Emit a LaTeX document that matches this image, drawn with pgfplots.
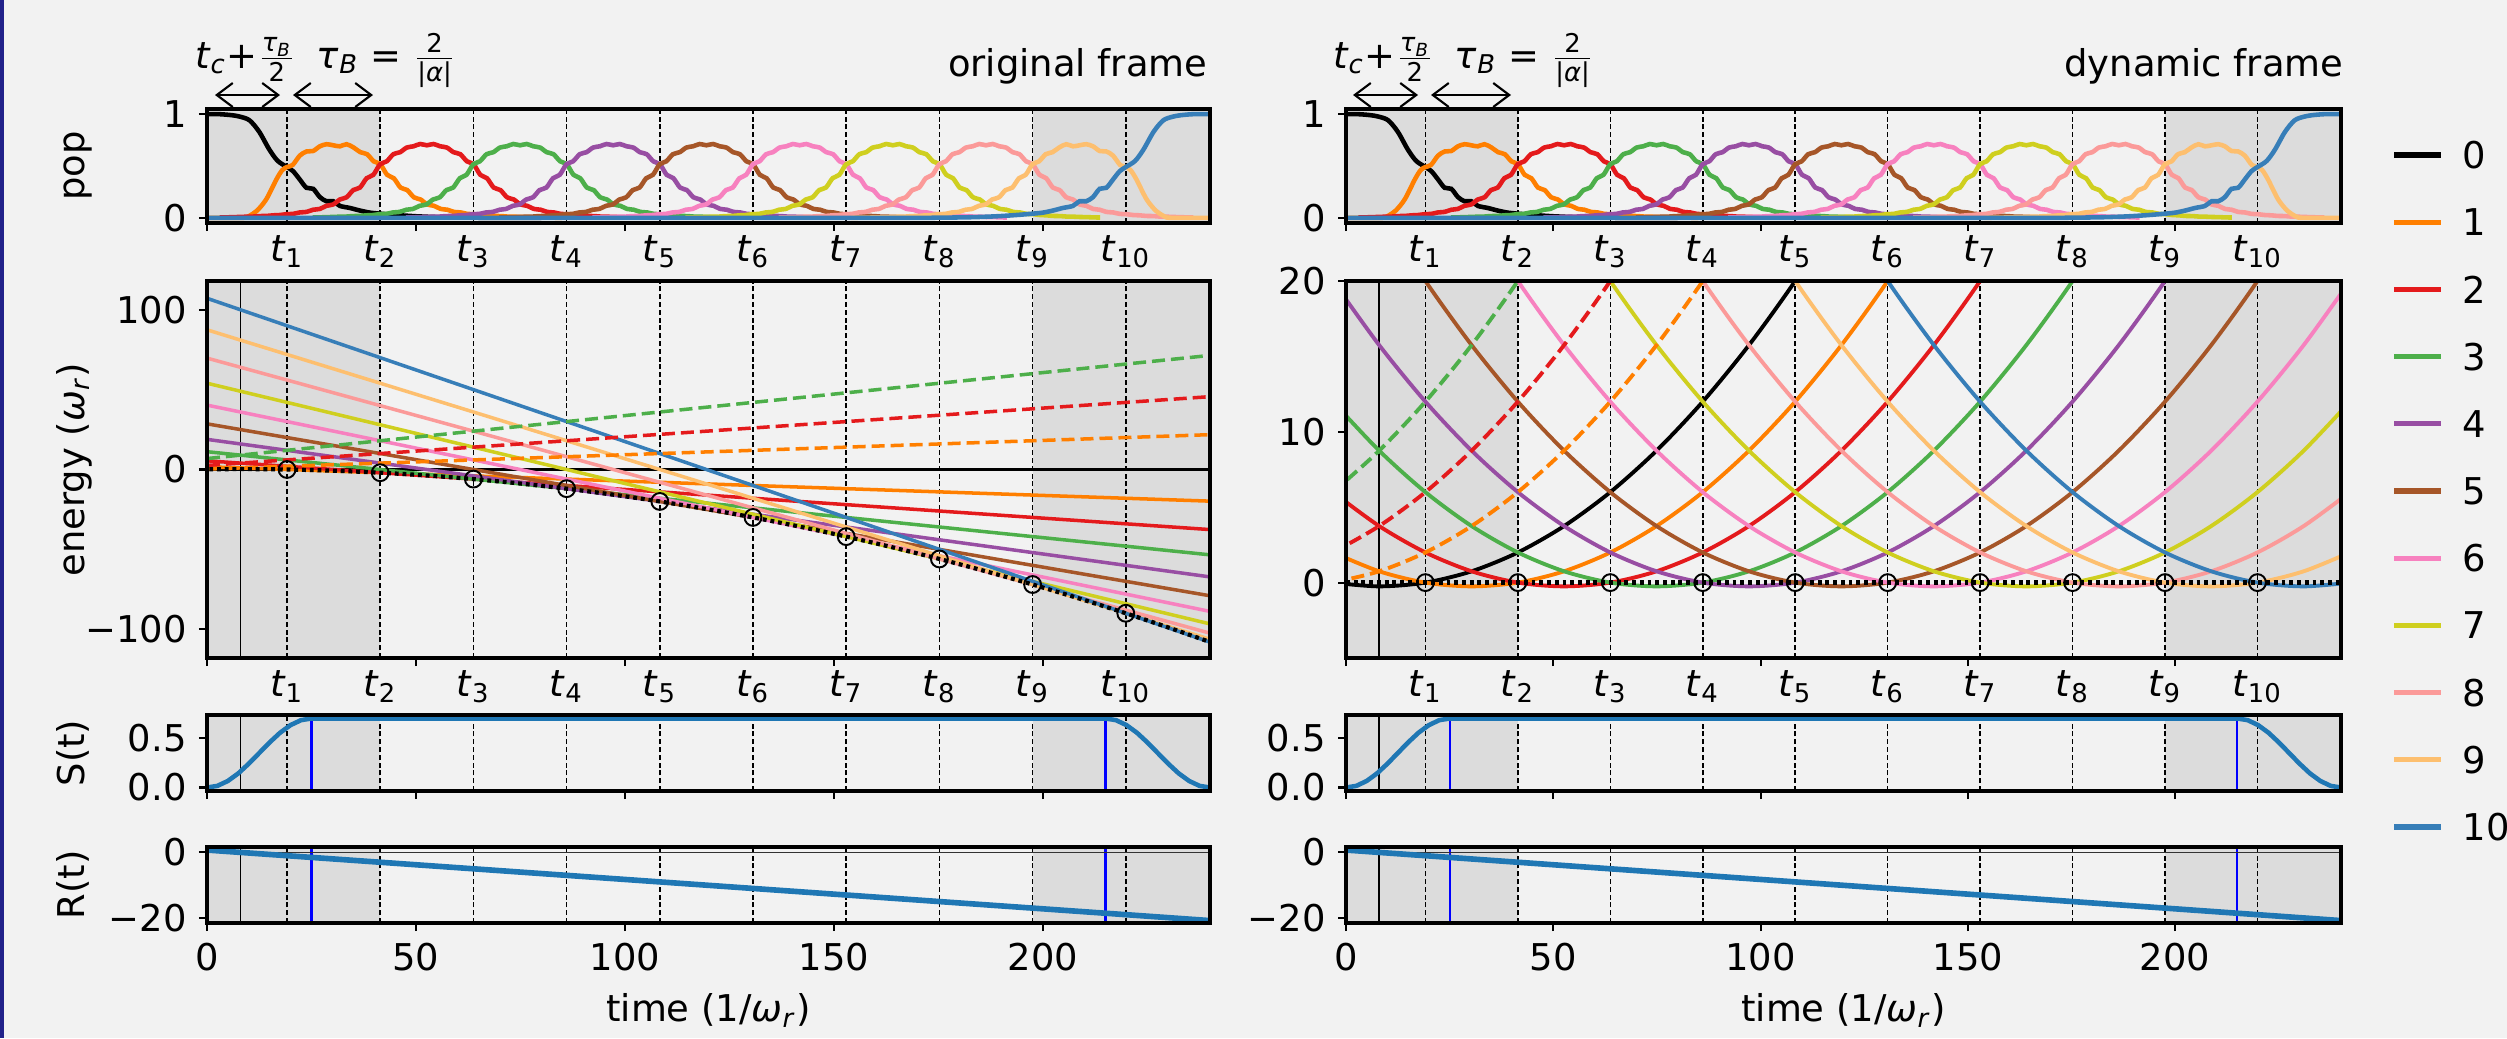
\documentclass[border=0pt]{standalone}
\usepackage{fontspec}
\setmainfont{DejaVu Sans}
\usepackage{amsmath}
\usepackage{pgfplots}
\usepackage{pgfplotstable}
\pgfplotsset{compat=1.18}
\usetikzlibrary{arrows.meta}

\definecolor{bg}{HTML}{F2F2F2}
\definecolor{shade}{HTML}{DCDCDC}
\definecolor{edge}{HTML}{22228A}
\definecolor{c0}{HTML}{000000}
\definecolor{c1}{HTML}{FF7F00}
\definecolor{c2}{HTML}{E41A1C}
\definecolor{c3}{HTML}{4DAF4A}
\definecolor{c4}{HTML}{984EA3}
\definecolor{c5}{HTML}{A65628}
\definecolor{c6}{HTML}{F781BF}
\definecolor{c7}{HTML}{CFCF1F}
\definecolor{c8}{HTML}{FB9A99}
\definecolor{c9}{HTML}{FDBF6F}
\definecolor{c10}{HTML}{377EB8}
\definecolor{sblue}{HTML}{1F77B4}

\newcommand{\fs}{\fontsize{10.5}{12.6}\selectfont}
\newcommand{\tl}[1]{\textit{t}\textsubscript{#1}}
\newcommand{\omr}{\textit{ω}\textsubscript{\textit{r}}}

% generic population bump of one level, d = t - centre
\pgfplotstableread{
d p
-49.6 0.003
-48.0 0.004
-46.4 0.007
-44.8 0.008
-43.2 0.011
-41.6 0.012
-40.0 0.017
-38.4 0.018
-36.8 0.024
-35.2 0.027
-33.6 0.035
-32.0 0.038
-30.4 0.052
-28.8 0.057
-27.2 0.078
-25.6 0.086
-24.0 0.116
-22.4 0.129
-20.8 0.177
-19.2 0.198
-17.6 0.268
-16.0 0.292
-14.4 0.382
-12.8 0.415
-11.2 0.516
-9.6 0.545
-8.0 0.614
-6.4 0.633
-4.8 0.678
-3.2 0.690
-1.6 0.712
0.0 0.700
1.6 0.712
3.2 0.690
4.8 0.678
6.4 0.633
8.0 0.614
9.6 0.545
11.2 0.516
12.8 0.415
14.4 0.382
16.0 0.292
17.6 0.268
19.2 0.198
20.8 0.177
22.4 0.129
24.0 0.116
25.6 0.086
27.2 0.078
28.8 0.057
30.4 0.052
32.0 0.038
33.6 0.035
35.2 0.027
36.8 0.024
38.4 0.018
40.0 0.017
41.6 0.012
43.2 0.011
44.8 0.008
46.4 0.007
48.0 0.004
49.6 0.003
}\bump

\pgfplotstableread{
t p
0 1
3 1
6 0.99
8 0.975
10.2 0.94
12.5 0.83
14.9 0.66
16.9 0.55
19.15 0.49
20.6 0.45
22.2 0.37
23.8 0.29
25.4 0.28
27 0.2
28.6 0.16
30.2 0.16
31.8 0.115
34.2 0.095
36.6 0.07
39 0.05
41.45 0.04
45 0.028
50 0.015
56 0.006
65 0.001
80 0
}\popA

\pgfplotstableread{
t p
0 0
8 0
9.5 0.005
10.2 0.02
12 0.07
14.2 0.18
16.6 0.37
18 0.46
19.15 0.49
20.5 0.51
22.2 0.6
23.8 0.64
25.4 0.645
27 0.69
28.6 0.71
30.2 0.70
31.8 0.69
33.4 0.71
35.1 0.678
36.7 0.633
38.3 0.614
39.9 0.545
41.5 0.516
43.1 0.415
44.7 0.382
46.3 0.292
47.9 0.268
49.5 0.198
51.1 0.177
52.7 0.129
54.3 0.116
55.9 0.086
57.5 0.078
59.1 0.057
60.7 0.052
62.3 0.038
63.9 0.035
65.5 0.027
67.1 0.024
68.7 0.018
70.3 0.017
71.9 0.012
73.5 0.011
75.1 0.008
76.7 0.007
78.3 0.004
79.9 0.003
85 0
}\popB

\pgfplotstableread{
t p
154 0
159.1 0.003
160.7 0.004
162.3 0.007
163.9 0.008
165.5 0.011
167.1 0.012
168.7 0.017
170.3 0.018
171.9 0.024
173.5 0.027
175.1 0.035
176.7 0.038
178.3 0.052
179.9 0.057
181.5 0.078
183.1 0.086
184.7 0.116
186.3 0.129
187.9 0.177
189.5 0.198
191.1 0.268
192.7 0.292
194.3 0.382
195.9 0.415
197.5 0.516
199.1 0.545
200.7 0.614
202.3 0.633
203.9 0.678
205.6 0.71
207.2 0.69
208.8 0.70
210.4 0.71
212 0.69
213.6 0.645
215.2 0.64
216.8 0.6
218.5 0.51
219.85 0.49
221 0.46
222.4 0.37
224.8 0.18
227 0.07
228.8 0.02
229.5 0.005
231 0
240 0
}\popI

\pgfplotstableread{
t p
0 0
159 0
174 0.001
183 0.006
189 0.015
194 0.028
197.55 0.04
200 0.05
202.4 0.07
204.8 0.095
207.2 0.115
208.8 0.16
210.4 0.16
212 0.2
213.6 0.28
215.2 0.29
216.8 0.37
218.4 0.45
219.85 0.49
222.1 0.55
224.1 0.66
226.5 0.83
228.8 0.94
231 0.975
233 0.99
236 1
240 1
}\popJ

\pgfplotstableread{
t S
0 0
2.5 0.017
5 0.067
7.5 0.144
10 0.242
12.5 0.35
15 0.458
17.5 0.556
20 0.633
22.5 0.683
25 0.7
215 0.7
217.5 0.683
220 0.633
222.5 0.556
225 0.458
227.5 0.35
230 0.242
232.5 0.144
235 0.067
237.5 0.017
240 0
}\ramp

\pgfplotsset{
  panel/.style={scale only axis, xmin=0, xmax=240, axis on top,
    axis line style={line width=1.1pt},
    tick pos=left, tick align=outside, major tick length=0.08cm,
    every tick/.style={black, line width=0.6pt},
    xtick={0,50,100,150,200}, xticklabels={,,,,},
    extra x ticks={19.15,41.45,63.75,86.05,108.35,130.65,152.95,175.25,197.55,219.85},
    extra x tick labels={,,,,,,,,,},
    extra x tick style={major tick length=0pt},
    tick label style={font=\fs}, label style={font=\fs}},
  tlab/.style={extra x tick labels={\tl{1},\tl{2},\tl{3},\tl{4},\tl{5},\tl{6},\tl{7},\tl{8},\tl{9},\tl{10}}},
  ylab/.style={ylabel={#1}, ylabel style={at={(axis description cs:-0.1226,0.5)}, anchor=base}},
  pl/.style={line width=1.3pt, smooth},
  en/.style={line width=1.0pt},
  dy/.style={line width=1.1pt, smooth},
  dsh/.style={dash pattern=on 0.13cm off 0.06cm},
  dots/.style={black, line width=1.2pt, dash pattern=on 1.1pt off 1.1pt},
  circ/.style={only marks, mark=o, mark size=2.4pt, mark options={black, line width=0.55pt}},
  tline/.style={black, line width=0.45pt, dash pattern=on 0.05cm off 0.028cm},
}

% shaded ramp regions and the dashed lines at t_1 ... t_10
\newcommand{\panelbg}[2]{%
  \addplot[draw=none, fill=shade, forget plot]
    coordinates {(0,#1) (41.45,#1) (41.45,#2) (0,#2)} -- cycle;
  \addplot[draw=none, fill=shade, forget plot]
    coordinates {(197.55,#1) (240,#1) (240,#2) (197.55,#2)} -- cycle;
  \pgfplotsinvokeforeach{19.15,41.45,63.75,86.05,108.35,130.65,152.95,175.25,197.55,219.85}{%
    \addplot[tline, forget plot] coordinates {(##1,#1) (##1,#2)};}}
\newcommand{\vl}[4]{\addplot[#1, forget plot] coordinates {(#2,#3) (#2,#4)};}

\newcommand{\pops}{%
  \panelbg{-0.05}{1.05}
  \addplot[c0, pl] table[x=t, y=p] {\popA};
  \addplot[c1, pl] table[x=t, y=p] {\popB};
  \addplot[c2, pl] table[x expr=\thisrow{d}+52.6, y=p] {\bump};
  \addplot[c3, pl] table[x expr=\thisrow{d}+74.9, y=p] {\bump};
  \addplot[c4, pl] table[x expr=\thisrow{d}+97.2, y=p] {\bump};
  \addplot[c5, pl] table[x expr=\thisrow{d}+119.5, y=p] {\bump};
  \addplot[c6, pl] table[x expr=\thisrow{d}+141.8, y=p] {\bump};
  \addplot[c7, pl] table[x expr=\thisrow{d}+164.1, y=p] {\bump};
  \addplot[c8, pl] table[x expr=\thisrow{d}+186.4, y=p] {\bump};
  \addplot[c9, pl] table[x=t, y=p] {\popI};
  \addplot[c10, pl] table[x=t, y=p] {\popJ};}

\newcommand{\splot}{%
  \panelbg{-0.035}{0.735}
  \vl{black, line width=0.5pt}{8}{-0.035}{0.735}
  \vl{blue, line width=0.6pt}{25}{-0.035}{0.735}
  \vl{blue, line width=0.6pt}{215}{-0.035}{0.735}
  \addplot[sblue, line width=1.3pt] table[x=t, y=S] {\ramp};}

\newcommand{\rplot}{%
  \panelbg{-21.55}{1.65}
  \vl{black, line width=0.5pt}{8}{-21.55}{1.65}
  \vl{blue, line width=0.6pt}{25}{-21.55}{1.65}
  \vl{blue, line width=0.6pt}{215}{-21.55}{1.65}
  \addplot[black!80, line width=0.5pt, forget plot] coordinates {(0,0) (240,0)};
  \addplot[sblue, line width=1.6pt] coordinates {(0,0.72) (240,-20.81)};}

\begin{document}
\begin{tikzpicture}
\fill[bg] (0,0) rectangle (25.07,10.38);
\fill[edge] (0,0) rectangle (0.04,10.38);

% ---------------- original frame ----------------
\begin{axis}[panel, tlab, at={(2.07cm,8.15cm)}, anchor=south west,
  width=10.03cm, height=1.14cm, ymin=-0.05, ymax=1.05,
  ytick={0,1}, yticklabels={0,1}, ylab={pop}]
\pops
\end{axis}

\begin{axis}[panel, tlab, at={(2.07cm,3.80cm)}, anchor=south west,
  width=10.03cm, height=3.77cm, ymin=-118, ymax=118,
  ytick={-100,0,100}, yticklabels={−100,0,100}, ylab={energy (\omr)}]
\panelbg{-118}{118}
\vl{black, line width=0.5pt}{8}{-118}{118}
\addplot[c0, en] coordinates {(0,0) (240,0)};
\addplot[c1, en] coordinates {(0,1.72) (240,-19.81)};
\addplot[c2, en] coordinates {(0,5.44) (240,-37.61)};
\addplot[c3, en] coordinates {(0,11.15) (240,-53.42)};
\addplot[c4, en] coordinates {(0,18.87) (240,-67.23)};
\addplot[c5, en] coordinates {(0,28.59) (240,-79.04)};
\addplot[c6, en] coordinates {(0,40.31) (240,-88.84)};
\addplot[c7, en] coordinates {(0,54.02) (240,-96.65)};
\addplot[c8, en] coordinates {(0,69.74) (240,-102.46)};
\addplot[c9, en] coordinates {(0,87.46) (240,-106.26)};
\addplot[c10, en] coordinates {(0,107.18) (240,-108.07)};
\addplot[c1, en, dsh] coordinates {(0,0.28) (240,21.81)};
\addplot[c2, en, dsh] coordinates {(0,2.56) (240,45.61)};
\addplot[c3, en, dsh] coordinates {(0,6.85) (240,71.42)};
\addplot[dots, smooth] coordinates {(-3.15,0) (8,0.25) (19.15,0) (30.3,-0.75) (41.45,-2)
  (52.6,-3.75) (63.75,-6) (74.9,-8.75) (86.05,-12) (97.2,-15.75) (108.35,-20)
  (119.5,-24.75) (130.65,-30) (141.8,-35.75) (152.95,-42) (164.1,-48.75) (175.25,-56)
  (186.4,-63.75) (197.55,-72) (208.7,-80.75) (219.85,-90) (231,-99.75) (242.15,-110)};
\addplot[circ] coordinates {(19.15,0) (41.45,-2) (63.75,-6) (86.05,-12) (108.35,-20)
  (130.65,-30) (152.95,-42) (175.25,-56) (197.55,-72) (219.85,-90)};
\end{axis}

\begin{axis}[panel, at={(2.07cm,2.47cm)}, anchor=south west,
  width=10.03cm, height=0.76cm, ymin=-0.035, ymax=0.735,
  ytick={0,0.5}, yticklabels={0.0,0.5}, ylab={S(t)}]
\splot
\end{axis}

\begin{axis}[panel, at={(2.07cm,1.15cm)}, anchor=south west,
  width=10.03cm, height=0.76cm, ymin=-21.55, ymax=1.65,
  ytick={-20,0}, yticklabels={−20,0}, ylab={R(t)},
  xticklabels={0,50,100,150,200}, xlabel={time (1/\omr)},
  xlabel style={at={(axis description cs:0.5,-1.30)}, anchor=base}]
\rplot
\end{axis}

% ---------------- dynamic frame ----------------
\begin{axis}[panel, tlab, at={(13.46cm,8.15cm)}, anchor=south west,
  width=9.95cm, height=1.14cm, ymin=-0.05, ymax=1.05,
  ytick={0,1}, yticklabels={0,1}]
\pops
\end{axis}

\begin{axis}[panel, tlab, at={(13.46cm,3.80cm)}, anchor=south west,
  width=9.95cm, height=3.77cm, ymin=-5, ymax=20,
  ytick={0,10,20}, yticklabels={0,10,20}]
\panelbg{-5}{20}
\vl{black, line width=0.5pt}{8}{-5}{20}
\addplot[c0, dy] coordinates {(-3.15,0) (8,-0.25) (19.15,0) (30.3,0.75) (41.45,2) (52.6,3.75)
  (63.75,6) (74.9,8.75) (86.05,12) (97.2,15.75) (108.35,20) (119.5,24.75) (130.65,30)};
\addplot[c1, dy] coordinates {(-3.15,2) (8,0.75) (19.15,0) (30.3,-0.25) (41.45,0) (52.6,0.75)
  (63.75,2) (74.9,3.75) (86.05,6) (97.2,8.75) (108.35,12) (119.5,15.75) (130.65,20)
  (141.8,24.75) (152.95,30)};
\addplot[c2, dy] coordinates {(-3.15,6) (8,3.75) (19.15,2) (30.3,0.75) (41.45,0) (52.6,-0.25)
  (63.75,0) (74.9,0.75) (86.05,2) (97.2,3.75) (108.35,6) (119.5,8.75) (130.65,12)
  (141.8,15.75) (152.95,20) (164.1,24.75) (175.25,30)};
\addplot[c3, dy] coordinates {(-3.15,12) (8,8.75) (19.15,6) (30.3,3.75) (41.45,2) (52.6,0.75)
  (63.75,0) (74.9,-0.25) (86.05,0) (97.2,0.75) (108.35,2) (119.5,3.75) (130.65,6)
  (141.8,8.75) (152.95,12) (164.1,15.75) (175.25,20) (186.4,24.75) (197.55,30)};
\addplot[c4, dy] coordinates {(-3.15,20) (8,15.75) (19.15,12) (30.3,8.75) (41.45,6) (52.6,3.75)
  (63.75,2) (74.9,0.75) (86.05,0) (97.2,-0.25) (108.35,0) (119.5,0.75) (130.65,2)
  (141.8,3.75) (152.95,6) (164.1,8.75) (175.25,12) (186.4,15.75) (197.55,20)
  (208.7,24.75) (219.85,30)};
\addplot[c5, dy] coordinates {(-3.15,30) (8,24.75) (19.15,20) (30.3,15.75) (41.45,12)
  (52.6,8.75) (63.75,6) (74.9,3.75) (86.05,2) (97.2,0.75) (108.35,0) (119.5,-0.25)
  (130.65,0) (141.8,0.75) (152.95,2) (164.1,3.75) (175.25,6) (186.4,8.75) (197.55,12)
  (208.7,15.75) (219.85,20) (231,24.75) (242.15,30)};
\addplot[c6, dy] coordinates {(8,35.75) (19.15,30) (30.3,24.75) (41.45,20) (52.6,15.75)
  (63.75,12) (74.9,8.75) (86.05,6) (97.2,3.75) (108.35,2) (119.5,0.75) (130.65,0)
  (141.8,-0.25) (152.95,0) (164.1,0.75) (175.25,2) (186.4,3.75) (197.55,6) (208.7,8.75)
  (219.85,12) (231,15.75) (242.15,20)};
\addplot[c7, dy] coordinates {(30.3,35.75) (41.45,30) (52.6,24.75) (63.75,20) (74.9,15.75)
  (86.05,12) (97.2,8.75) (108.35,6) (119.5,3.75) (130.65,2) (141.8,0.75) (152.95,0)
  (164.1,-0.25) (175.25,0) (186.4,0.75) (197.55,2) (208.7,3.75) (219.85,6) (231,8.75)
  (242.15,12)};
\addplot[c8, dy] coordinates {(52.6,35.75) (63.75,30) (74.9,24.75) (86.05,20) (97.2,15.75)
  (108.35,12) (119.5,8.75) (130.65,6) (141.8,3.75) (152.95,2) (164.1,0.75) (175.25,0)
  (186.4,-0.25) (197.55,0) (208.7,0.75) (219.85,2) (231,3.75) (242.15,6)};
\addplot[c9, dy] coordinates {(74.9,35.75) (86.05,30) (97.2,24.75) (108.35,20) (119.5,15.75)
  (130.65,12) (141.8,8.75) (152.95,6) (164.1,3.75) (175.25,2) (186.4,0.75) (197.55,0)
  (208.7,-0.25) (219.85,0) (231,0.75) (242.15,2)};
\addplot[c10, dy] coordinates {(97.2,35.75) (108.35,30) (119.5,24.75) (130.65,20)
  (141.8,15.75) (152.95,12) (164.1,8.75) (175.25,6) (186.4,3.75) (197.55,2) (208.7,0.75)
  (219.85,0) (231,-0.25) (242.15,0)};
\addplot[c1, dy, dsh] coordinates {(-3.15,0) (8,0.75) (19.15,2) (30.3,3.75) (41.45,6)
  (52.6,8.75) (63.75,12) (74.9,15.75) (86.05,20) (97.2,24.75) (108.35,30)};
\addplot[c2, dy, dsh] coordinates {(-3.15,2) (8,3.75) (19.15,6) (30.3,8.75) (41.45,12)
  (52.6,15.75) (63.75,20) (74.9,24.75) (86.05,30)};
\addplot[c3, dy, dsh] coordinates {(-3.15,6) (8,8.75) (19.15,12) (30.3,15.75) (41.45,20)
  (52.6,24.75) (63.75,30)};
\addplot[dots] coordinates {(0,0) (240,0)};
\addplot[circ] coordinates {(19.15,0) (41.45,0) (63.75,0) (86.05,0) (108.35,0)
  (130.65,0) (152.95,0) (175.25,0) (197.55,0) (219.85,0)};
\end{axis}

\begin{axis}[panel, at={(13.46cm,2.47cm)}, anchor=south west,
  width=9.95cm, height=0.76cm, ymin=-0.035, ymax=0.735,
  ytick={0,0.5}, yticklabels={0.0,0.5}]
\splot
\end{axis}

\begin{axis}[panel, at={(13.46cm,1.15cm)}, anchor=south west,
  width=9.95cm, height=0.76cm, ymin=-21.55, ymax=1.65,
  ytick={-20,0}, yticklabels={−20,0},
  xticklabels={0,50,100,150,200}, xlabel={time (1/\omr)},
  xlabel style={at={(axis description cs:0.5,-1.30)}, anchor=base}]
\rplot
\end{axis}

% ---------------- titles and annotations ----------------
\node[anchor=base east, font=\fs, inner sep=0] at (12.08,9.62) {original frame};
\node[anchor=base east, font=\fs, inner sep=0] at (23.44,9.62) {dynamic frame};
\foreach \dx in {0,11.38} {
  \draw[{Straight Barb[length=1.6mm,width=2.4mm]}-{Straight Barb[length=1.6mm,width=2.4mm]}, line width=0.6pt]
    (2.15+\dx,9.43) -- (2.80+\dx,9.43);
  \draw[{Straight Barb[length=1.6mm,width=2.4mm]}-{Straight Barb[length=1.6mm,width=2.4mm]}, line width=0.6pt]
    (2.93+\dx,9.43) -- (3.73+\dx,9.43);
  \node[anchor=base, font=\fs, inner sep=0] at (2.455+\dx,9.70)
    {\textit{t}\textsubscript{\textit{c}}+$\frac{\text{\textit{τ}\textsubscript{\textit{B}}}}{\text{2}}$};
  \node[anchor=base, font=\fs, inner sep=0] at (3.865+\dx,9.70)
    {\textit{τ}\textsubscript{\textit{B}} = $\frac{\text{2}}{\text{|\textit{α}|}}$};
}

% ---------------- legend ----------------
\foreach \c [count=\i from 0] in {c0,c1,c2,c3,c4,c5,c6,c7,c8,c9,c10} {
  \draw[\c, line width=1.5pt] (23.94,{8.83-0.672*\i}) -- (24.41,{8.83-0.672*\i});
  \node[anchor=west, font=\fs, inner sep=0] at (24.62,{8.83-0.672*\i}) {\i};
}
\pgfresetboundingbox
\useasboundingbox (0,0) rectangle (25.07,10.38);
\end{tikzpicture}
\end{document}
